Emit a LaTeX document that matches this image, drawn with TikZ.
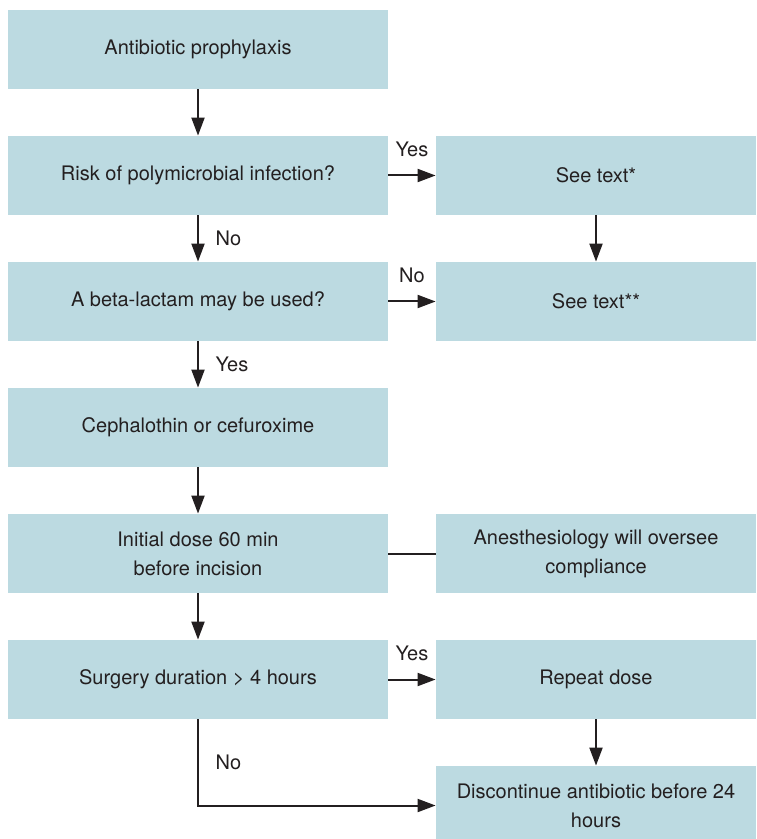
\documentclass[tikz,border=0pt]{standalone}
\usepackage{fontspec}
\setmainfont{TeX Gyre Heros}
\usepackage{tikz}
\usetikzlibrary{arrows.meta}
\definecolor{boxblue}{HTML}{BCDAE1}
\definecolor{inkgrey}{HTML}{231F20}
\tikzset{
    flowbox/.style={fill=boxblue, draw=none, align=center, inner sep=0pt,
        minimum height=39.5pt, font=\fontsize{10}{14.5}\selectfont, text=inkgrey},
    leftbox/.style={flowbox, minimum width=190pt},
    rightbox/.style={flowbox, minimum width=160pt},
    flowarrow/.style={draw=inkgrey, line width=1pt, -{Triangle[length=9pt,width=6.5pt]}},
    flowline/.style={draw=inkgrey, line width=1pt},
    answer/.style={font=\fontsize{10}{12}\selectfont, text=inkgrey}
}

\begin{document}
\begin{tikzpicture}[x=0.5pt, y=-0.5pt]
            \clip (0,0) rectangle (756,839);

            % main column
            \node[leftbox] (start)  at (198,49.5)  {Antibiotic prophylaxis};
            \node[leftbox] (risk)   at (198,175.5) {Risk of polymicrobial infection?};
            \node[leftbox] (lactam) at (198,301.5) {A beta-lactam may be used?};
            \node[leftbox] (ceph)   at (198,427.5) {Cephalothin or cefuroxime};
            \node[leftbox] (dose)   at (198,553.5) {Initial dose 60 min\\before incision};
            \node[leftbox] (dur)    at (198,679.5) {Surgery duration > 4 hours};

            % side column
            \node[rightbox] (text1)  at (596,175.5) {See text*};
            \node[rightbox] (text2)  at (596,301.5) {See text**};
            \node[rightbox] (anest)  at (596,553.5) {Anesthesiology will oversee\\compliance};
            \node[rightbox] (repeat) at (596,679.5) {Repeat dose};
            \node[rightbox] (stop)   at (596,805.5) {Discontinue antibiotic before 24\\hours};

            % vertical flow
            \draw[flowarrow] (start) -- (risk);
            \draw[flowarrow] (risk) -- node[answer, right=5pt] {No} (lactam);
            \draw[flowarrow] (lactam) -- node[answer, right=5pt] {Yes} (ceph);
            \draw[flowarrow] (ceph) -- (dose);
            \draw[flowarrow] (dose) -- (dur);
            \draw[flowarrow] (text1) -- (text2);
            \draw[flowarrow] (repeat) -- (stop);

            % branches
            \draw[flowarrow] (risk) -- node[answer, above=5.5pt] {Yes} (text1);
            \draw[flowarrow] (lactam) -- node[answer, above=5.5pt] {No} (text2);
            \draw[flowline] (dose) -- (anest);
            \draw[flowarrow] (dur) -- node[answer, above=5.5pt] {Yes} (repeat);
            \draw[flowarrow] (dur.south) |- node[answer, pos=0.25, right=5pt] {No} (stop.west);
        \end{tikzpicture}
\end{document}
